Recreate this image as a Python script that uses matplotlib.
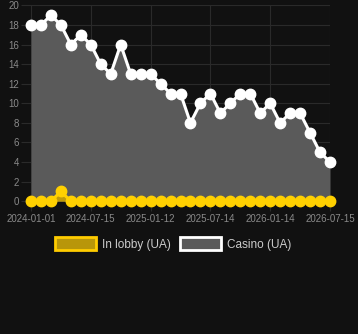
import matplotlib
matplotlib.use("Agg")
import matplotlib.pyplot as plt
from matplotlib.patches import Patch

casino = [18, 18, 19, 18, 16, 17, 16, 14, 13, 16, 13, 13, 13, 12, 11, 11, 8, 10, 11, 9,
          10, 11, 11, 9, 10, 8, 9, 9, 7, 5, 4]
lobby = [0, 0, 0, 1, 0, 0, 0, 0, 0, 0, 0, 0, 0, 0, 0, 0, 0, 0, 0, 0,
         0, 0, 0, 0, 0, 0, 0, 0, 0, 0, 0]
tick_pos = [0, 6, 12, 18, 24, 30]
tick_labels = ["2024-01-01", "2024-07-15", "2025-01-12", "2025-07-14", "2026-01-14", "2026-07-15"]
y_ticks = list(range(0, 21, 2))

plt.rcParams['font.family'] = ['Liberation Sans', 'DejaVu Sans']

BG = '#111111'
GRID = '#2a2a2a'
x = list(range(len(casino)))

fig = plt.figure(figsize=(3.58, 3.34), dpi=100, facecolor=BG)
ax = fig.add_axes([31 / 358, 1 - 201.2 / 334, 299 / 358, 195.8 / 334], facecolor=BG)

ax.fill_between(x, casino, 0, color='#5a5a5a', lw=0, zorder=2)
ax.plot(x, casino, color='white', lw=2.2, marker='o', ms=7.5, mec='white', mfc='white',
        zorder=3, clip_on=False)
ax.fill_between(x, lobby, 0, color='#bf9a0a', lw=0, zorder=4)
ax.plot(x, lobby, color='#ffd000', lw=2.2, marker='o', ms=7.5, mec='#ffd000', mfc='#ffd000',
        zorder=5, clip_on=False)

ax.set_xlim(0, len(casino) - 1)
ax.set_ylim(0, 20)
ax.set_yticks(y_ticks)
ax.set_xticks(tick_pos)
ax.set_xticklabels(tick_labels)
ax.grid(True, color=GRID, lw=0.8, zorder=0)
for s in ax.spines.values():
    s.set_visible(False)
ax.tick_params(axis='y', colors=GRID, labelcolor='#8a8a8a', labelsize=7, length=7, width=0.8, pad=1.5)
ax.tick_params(axis='x', colors=GRID, labelcolor='#8a8a8a', labelsize=7, length=7, width=0.8, pad=2)

handles = [Patch(facecolor='#b8960a', edgecolor='#ffcc00', lw=2, label='In lobby (UA)'),
           Patch(facecolor='#5a5a5a', edgecolor='white', lw=2, label='Casino (UA)')]
leg = fig.legend(handles=handles, loc='center', bbox_to_anchor=(173 / 358, 1 - 244 / 334), ncol=2,
                 frameon=False, fontsize=8.5, labelcolor='#cccccc', handlelength=3.5,
                 handleheight=1.2, handletextpad=0.45, columnspacing=0.8)

fig.savefig('out.png', dpi=100, facecolor=BG)
